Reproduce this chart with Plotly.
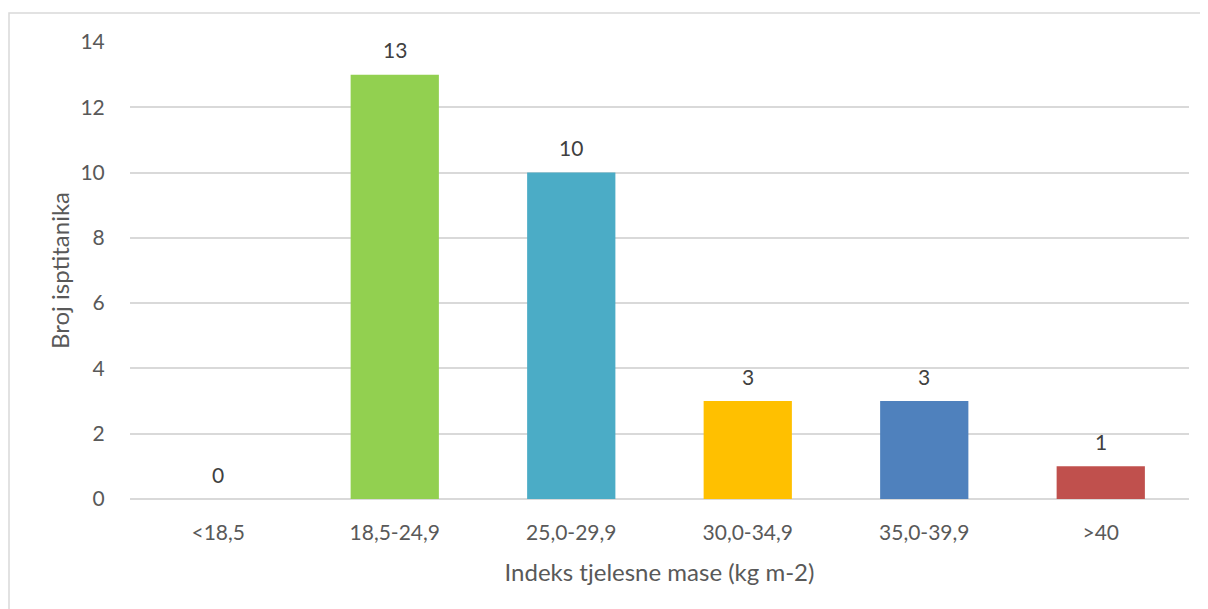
import plotly.graph_objects as go

categories = ["<18,5", "18,5-24,9", "25,0-29,9", "30,0-34,9", "35,0-39,9", ">40"]
values = [0, 13, 10, 3, 3, 1]
colors = ["#A5A5A5", "#92D050", "#4BACC6", "#FFC000", "#4F81BD", "#C0504D"]
y_ticks = [0, 2, 4, 6, 8, 10, 12, 14]

FONT = "Lato"
W, H = 1200, 601
L, R, T, B = 122, 19, 34, 110

fig = go.Figure()
fig.add_trace(go.Bar(
    x=categories, y=values,
    marker=dict(color=colors, line=dict(width=0)),
    width=0.5,
    hoverinfo="skip",
))

for c, v in zip(categories, values):
    fig.add_annotation(x=c, y=v, text=str(v), showarrow=False,
                       yanchor="middle", yshift=25,
                       font=dict(family=FONT, size=21, color="#404040"))

pw = W - L - R
ph = H - T - B
fig.add_shape(type="rect", xref="paper", yref="paper",
              x0=(1 - L) / pw, x1=(W + 10 - L) / pw,
              y0=(H - B - (H + 10)) / ph, y1=(H - B - 5) / ph,
              line=dict(color="#D9D9D9", width=1.5), fillcolor="rgba(0,0,0,0)",
              layer="below")

fig.update_layout(
    width=W, height=H,
    margin=dict(l=L, r=R, t=T, b=B),
    paper_bgcolor="white", plot_bgcolor="white",
    showlegend=False,
    font=dict(family=FONT, color="#595959"),
    xaxis=dict(
        type="category", showgrid=False, showline=False, zeroline=False,
        tickfont=dict(family=FONT, size=21, color="#595959"),
        ticks="outside", ticklen=15, tickcolor="rgba(0,0,0,0)",
        title=dict(text="Indeks tjelesne mase (kg m-2)", standoff=20,
                   font=dict(family=FONT, size=24, color="#595959")),
    ),
    yaxis=dict(
        range=[0, 14], tickvals=y_ticks, showline=False,
        gridcolor="#D9D9D9", gridwidth=1.5,
        zeroline=True, zerolinecolor="#D9D9D9", zerolinewidth=1.5,
        tickfont=dict(family=FONT, size=21, color="#595959"),
        ticks="outside", ticklen=20, tickcolor="rgba(0,0,0,0)",
        title=dict(text="Broj isptitanika", standoff=4,
                   font=dict(family=FONT, size=24, color="#595959")),
    ),
)

fig.write_html("out.html")
